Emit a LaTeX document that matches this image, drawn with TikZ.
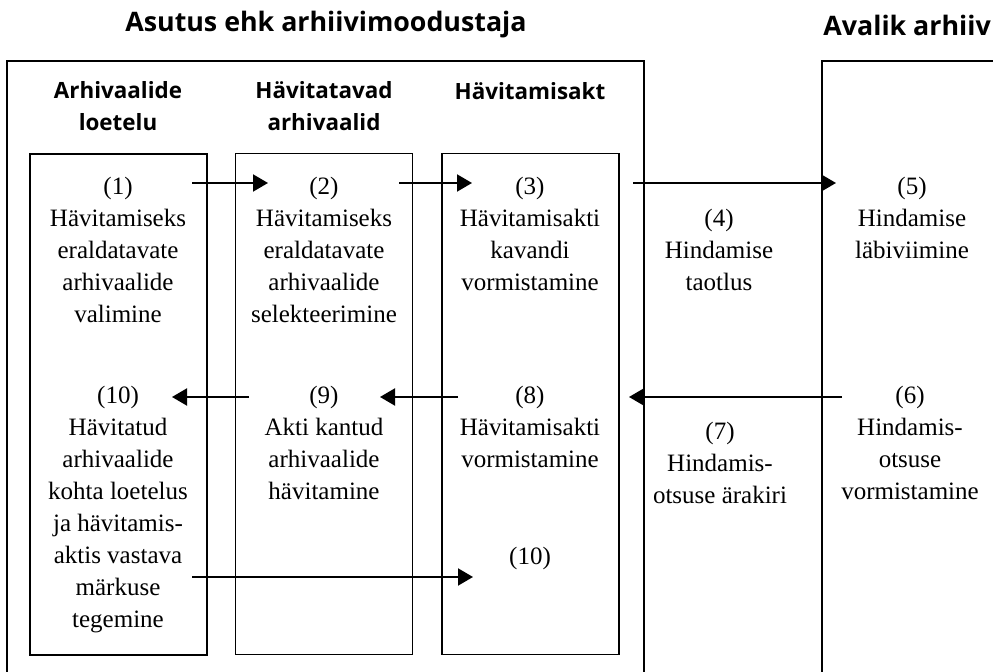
\documentclass[tikz,border=0pt]{standalone}
\usepackage{fontspec}
\setmainfont{Liberation Serif}
\newfontfamily\headfont{Open Sans}
\usetikzlibrary{arrows.meta,positioning}

\tikzset{
    colbox/.style={draw, line width=0.7pt, minimum width=88.5pt, minimum height=250.5pt, inner sep=0pt},
    frame/.style={draw, line width=0.7pt},
    head/.style={align=center, inner sep=0pt, font=\headfont\bfseries\fontsize{11.2}{16}\selectfont},
    title/.style={inner sep=0pt, font=\headfont\bfseries\fontsize{13.4}{16}\selectfont},
    txt/.style={align=center, inner sep=0pt, anchor=north, font=\fontsize{12.5}{16}\selectfont},
    flow/.style={line width=1pt, -{Triangle[length=7.5pt,width=8.5pt]}}
}

\begin{document}
\begin{tikzpicture}[x=0.5pt,y=-0.5pt]
    \useasboundingbox (0,0) rectangle (993,672);
    % the two parties
    \draw [frame] (7,700) -- (7,61) -- (644,61) -- (644,700);
    \draw [frame] (822,700) -- (822,61) -- (1010,61);
    \node[title] (asutus) at (326,25) {Asutus ehk arhiivimoodustaja};
    \node[title, anchor=west] (avalik) at (823,25) {Avalik arhiiv};
    % columns
    \node[head] (loetelu) at (118,106) {Arhivaalide\\loetelu};
    \node[head] (havitatavad) at (324,106) {Hävitatavad\\arhivaalid};
    \node[head] (akt) at (530,91) {Hävitamisakt};
    \node[colbox] (c1) at (118.5,404.5) {};
    \node[colbox] (c2) at (324,404) {};
    \node[colbox] (c3) at (530.5,404) {};
    % steps
    \node[txt] (s1) at (118,177) {(1)\\Hävitamiseks\\eraldatavate\\arhivaalide\\valimine};
    \node[txt] (s2) at (324,177) {(2)\\Hävitamiseks\\eraldatavate\\arhivaalide\\selekteerimine};
    \node[txt] (s3) at (530,177) {(3)\\Hävitamisakti\\kavandi\\vormistamine};
    \node[txt] (s4) at (719,209) {(4)\\Hindamise\\taotlus};
    \node[txt] (s5) at (912,177) {(5)\\Hindamise\\läbiviimine};
    \node[txt] (s6) at (910,386) {(6)\\Hindamis-\\otsuse\\vormistamine};
    \node[txt] (s7) at (720,422) {(7)\\Hindamis-\\otsuse ärakiri};
    \node[txt] (s8) at (530,386) {(8)\\Hävitamisakti\\vormistamine};
    \node[txt] (s9) at (324,386) {(9)\\Akti kantud\\arhivaalide\\hävitamine};
    \node[txt] (s10) at (118,386) {(10)\\Hävitatud\\arhivaalide\\kohta loetelus\\ja hävitamis-\\aktis vastava\\märkuse\\tegemine};
    \node[txt] (s10b) at (530,547) {(10)};
    % arrow ends
    \coordinate (a1) at (192,183);
    \coordinate (a2) at (268,183);
    \coordinate (a3) at (399,183);
    \coordinate (a4) at (472,183);
    \coordinate (a5) at (633,183);
    \coordinate (a6) at (836,183);
    \coordinate (b1) at (842,397);
    \coordinate (b2) at (629,397);
    \coordinate (b3) at (458,397);
    \coordinate (b4) at (380,397);
    \coordinate (b5) at (249,397);
    \coordinate (b6) at (172,397);
    \coordinate (d1) at (192,577);
    \coordinate (d2) at (473,577);
    \draw [flow] (a1) -- (a2);
    \draw [flow] (a3) -- (a4);
    \draw [flow] (a5) -- (a6);
    \draw [flow] (b1) -- (b2);
    \draw [flow] (b3) -- (b4);
    \draw [flow] (b5) -- (b6);
    \draw [flow] (d1) -- (d2);
\end{tikzpicture}
\end{document}
